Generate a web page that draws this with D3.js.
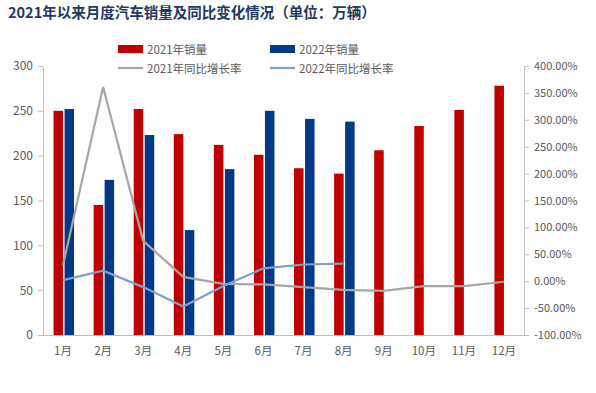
<!DOCTYPE html>
<html>
<head>
<meta charset="utf-8">
<script src="https://cdn.jsdelivr.net/npm/d3@7"></script>
<style>
body { margin: 0; background: #fff; }
text { font-family: "Noto Sans CJK SC", "DejaVu Sans", sans-serif; }
</style>
</head>
<body>
<div id="chart"></div>
<script>
var w = 596, h = 393;

var months = ["1月", "2月", "3月", "4月", "5月", "6月", "7月", "8月", "9月", "10月", "11月", "12月"];
var sales2021 = [250, 145, 252, 224, 212, 201, 186, 180, 206, 233, 251, 278];
var sales2022 = [252, 173, 223, 117, 185, 250, 241, 238];
var yoy2021 = [30, 361, 75, 8, -5, -6, -11, -16, -18, -9, -9, -1];
var yoy2022 = [2, 19.5, -11, -47, -9, 24, 31, 32.5];
var leftTicks = [0, 50, 100, 150, 200, 250, 300];
var rightTicks = [-100, -50, 0, 50, 100, 150, 200, 250, 300, 350, 400];

var red = "#c00000", blue = "#003a86", gray = "#a6a6a6", lblue = "#7f9fcf";
var axisColor = "#bfbfbf", labelColor = "#595959";

var svg = d3.select("#chart").append("svg").attr("width", w).attr("height", h);

svg.append("text").attr("x", 8).attr("y", 18)
    .attr("font-size", "14.5px").attr("font-weight", "bold").attr("fill", "#1f3864")
    .text("2021年以来月度汽车销量及同比变化情况（单位：万辆）");

var plotL = 43, plotR = 524, plotT = 66, plotB = 335;

var x = d3.scaleBand().domain(months).range([plotL, plotR]);
var y = d3.scaleLinear().domain([0, 300]).range([plotB, plotT]);
var y2 = d3.scaleLinear().domain([-100, 400]).range([plotB, plotT]);
function cx(i) { return x(months[i]) + x.bandwidth() / 2; }

// bars
var bw = 9.5;
svg.append("g").selectAll("rect").data(sales2021).enter().append("rect")
    .attr("x", function (d, i) { return cx(i) - bw; })
    .attr("y", function (d) { return y(d); })
    .attr("width", bw).attr("height", function (d) { return plotB - y(d); })
    .attr("fill", red);
svg.append("g").selectAll("rect").data(sales2022).enter().append("rect")
    .attr("x", function (d, i) { return cx(i) + 1.5; })
    .attr("y", function (d) { return y(d); })
    .attr("width", bw).attr("height", function (d) { return plotB - y(d); })
    .attr("fill", blue);

// lines
var line = d3.line()
    .x(function (d, i) { return cx(i); })
    .y(function (d) { return y2(d); });
svg.append("path").datum(yoy2021).attr("d", line).attr("fill", "none")
    .attr("stroke", gray).attr("stroke-width", 2.2);
svg.append("path").datum(yoy2022).attr("d", line).attr("fill", "none")
    .attr("stroke", lblue).attr("stroke-width", 2.2);

// axes
var gl = svg.append("g").attr("transform", "translate(" + plotL + ",0)")
    .call(d3.axisLeft(y).tickValues(leftTicks).tickSize(5).tickSizeOuter(0));
var gr = svg.append("g").attr("transform", "translate(" + plotR + ",0)")
    .call(d3.axisRight(y2).tickValues(rightTicks).tickSize(5).tickSizeOuter(0)
        .tickFormat(function (d) { return d.toFixed(2) + "%"; }));
var gb = svg.append("g").attr("transform", "translate(0," + plotB + ")")
    .call(d3.axisBottom(x).tickSize(0).tickPadding(12));

[gl, gr, gb].forEach(function (g) {
    g.select(".domain").attr("stroke", axisColor);
    g.selectAll(".tick line").attr("stroke", axisColor);
    g.selectAll(".tick text").attr("fill", labelColor).attr("font-size", "11.5px")
        .attr("font-family", "'Noto Sans CJK SC', 'DejaVu Sans', sans-serif");
});
gl.selectAll(".tick text").attr("font-family", "'Liberation Sans', Arial, sans-serif").attr("font-size", "12px").attr("dx", -2);
gr.selectAll(".tick text").attr("font-family", "'DejaVu Sans Mono', monospace").attr("font-size", "11px").attr("dx", 2);

// legend
var legend = [
    { label: "2021年销量", type: "bar", color: red, x: 118, y: 49 },
    { label: "2022年销量", type: "bar", color: blue, x: 270, y: 49 },
    { label: "2021年同比增长率", type: "line", color: gray, x: 118, y: 68 },
    { label: "2022年同比增长率", type: "line", color: lblue, x: 270, y: 68 }
];
var lg = svg.append("g").selectAll("g").data(legend).enter().append("g")
    .attr("transform", function (d) { return "translate(" + d.x + "," + d.y + ")"; });
lg.each(function (d) {
    var g = d3.select(this);
    if (d.type == "bar") g.append("rect").attr("x", 0).attr("y", -4).attr("width", 25).attr("height", 8).attr("fill", d.color);
    else g.append("line").attr("x1", 0).attr("x2", 25).attr("y1", 0).attr("y2", 0).attr("stroke", d.color).attr("stroke-width", 2.2);
    g.append("text").attr("x", 29).attr("y", 4.5).attr("font-size", "11.5px").attr("fill", labelColor).text(d.label);
});
</script>
</body>
</html>
